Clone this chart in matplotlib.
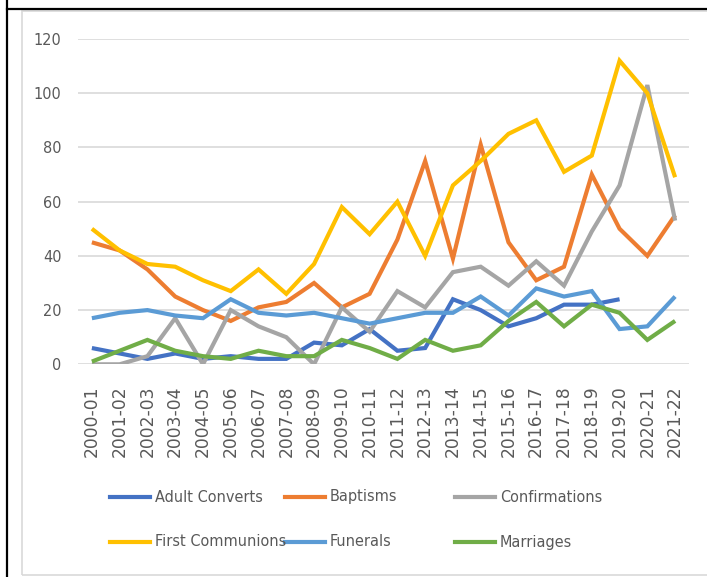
import numpy as np
import matplotlib
matplotlib.use("Agg")
import matplotlib.pyplot as plt
from matplotlib import font_manager
from matplotlib.lines import Line2D
from matplotlib.patches import Rectangle

# ===== data =====
seasons = ["2000-01", "2001-02", "2002-03", "2003-04", "2004-05", "2005-06",
           "2006-07", "2007-08", "2008-09", "2009-10", "2010-11", "2011-12",
           "2012-13", "2013-14", "2014-15", "2015-16", "2016-17", "2017-18",
           "2018-19", "2019-20", "2020-21", "2021-22"]

adult_converts = [6, 4, 2, 4, 2, 3, 2, 2, 8, 7, 13, 5, 6, 24, 20, 14, 17, 22, 22, 24, np.nan, np.nan]
baptisms = [45, 42, 35, 25, 20, 16, 21, 23, 30, 21, 26, 46, 75, 39, 81, 45, 31, 36, 70, 50, 40, 55]
confirmations = [0, 0, 3, 17, 0, 20, 14, 10, 0, 21, 12, 27, 21, 34, 36, 29, 38, 29, 49, 66, 103, 53]
first_communions = [50, 42, 37, 36, 31, 27, 35, 26, 37, 58, 48, 60, 40, 66, 75, 85, 90, 71, 77, 112, 100, 69]
funerals = [17, 19, 20, 18, 17, 24, 19, 18, 19, 17, 15, 17, 19, 19, 25, 18, 28, 25, 27, 13, 14, 25]
marriages = [1, 5, 9, 5, 3, 2, 5, 3, 3, 9, 6, 2, 9, 5, 7, 16, 23, 14, 22, 19, 9, 16]

series_names = ["Adult Converts", "Baptisms", "Confirmations",
                "First Communions", "Funerals", "Marriages"]
series_values = [adult_converts, baptisms, confirmations,
                 first_communions, funerals, marriages]
colors = ["#4472C4", "#ED7D31", "#A5A5A5", "#FFC000", "#5B9BD5", "#70AD47"]

yticks = [0, 20, 40, 60, 80, 100, 120]

# 找一個窄字體 (regular, 非粗體/斜體)
cond = [f.fname for f in font_manager.fontManager.ttflist
        if ("Condensed" in f.fname or "Narrow" in f.fname)
        and not any(k in f.fname for k in ["Bold", "Italic", "Oblique", "Light",
                                            "Semi", "Extra", "Medium", "Thin", "Black"])]
cond.sort(key=lambda p: (0 if "Liberation" in p else 1 if "DejaVu" in p else 2, p))
if cond:
    narrow_prop = font_manager.FontProperties(fname=cond[0])
    small = 11.6
else:
    narrow_prop = font_manager.FontProperties(family="DejaVu Sans")
    small = 10.0

# ===== figure =====
W, H = 707, 577
fig = plt.figure(figsize=(W / 100, H / 100), dpi=100)
txt_col = "#595959"

# 外框
fig.add_artist(Rectangle((22 / W, 1 - 575 / H), 700 / W, (575 - 10.5) / H,
                         transform=fig.transFigure, fill=False,
                         edgecolor="#D9D9D9", lw=1.2))
fig.add_artist(Line2D([7 / W, 1], [1 - 8.5 / H, 1 - 8.5 / H],
                      transform=fig.transFigure, color="black", lw=1.6))
fig.add_artist(Line2D([7 / W, 7 / W], [0, 1],
                      transform=fig.transFigure, color="black", lw=1.6))

ax = fig.add_axes([78 / W, 1 - 364.3 / H, 611 / W, (364.3 - 39) / H])
x = np.arange(len(seasons))
for i, (name, vals, c) in enumerate(zip(series_names, series_values, colors)):
    ax.plot(x, vals, color=c, lw=3.0, solid_joinstyle="miter",
            solid_capstyle="butt", zorder=3 + i)

ax.set_xlim(-0.5, len(seasons) - 0.5)
ax.set_ylim(0, 120)
ax.set_yticks(yticks)
ax.set_yticklabels([str(v) for v in yticks], fontproperties=narrow_prop,
                   fontsize=small, color=txt_col)
ax.set_xticks(x)
ax.set_xticklabels(seasons, rotation=90, family="DejaVu Sans", fontsize=12.3,
                   color=txt_col, va="top", ha="center")
ax.tick_params(axis="y", length=0, pad=12)
ax.tick_params(axis="x", length=0, pad=15)
ax.grid(axis="y", color="#D9D9D9", lw=1.2, zorder=0)
for s in ax.spines.values():
    s.set_visible(False)

# ===== legend (Excel style, equal columns) =====
col_x = [110, 285, 455]
row_y = [497, 542]
for i, (name, c) in enumerate(zip(series_names, colors)):
    cx = col_x[i % 3]
    ry = row_y[i // 3]
    fig.add_artist(Line2D([cx / W, (cx + 40) / W], [1 - ry / H, 1 - ry / H],
                          transform=fig.transFigure, color=c, lw=3.0))
    fig.text((cx + 45) / W, 1 - ry / H, name, fontproperties=narrow_prop,
             fontsize=small, color=txt_col, ha="left", va="center")

fig.savefig("out.png", dpi=100)
plt.close()
